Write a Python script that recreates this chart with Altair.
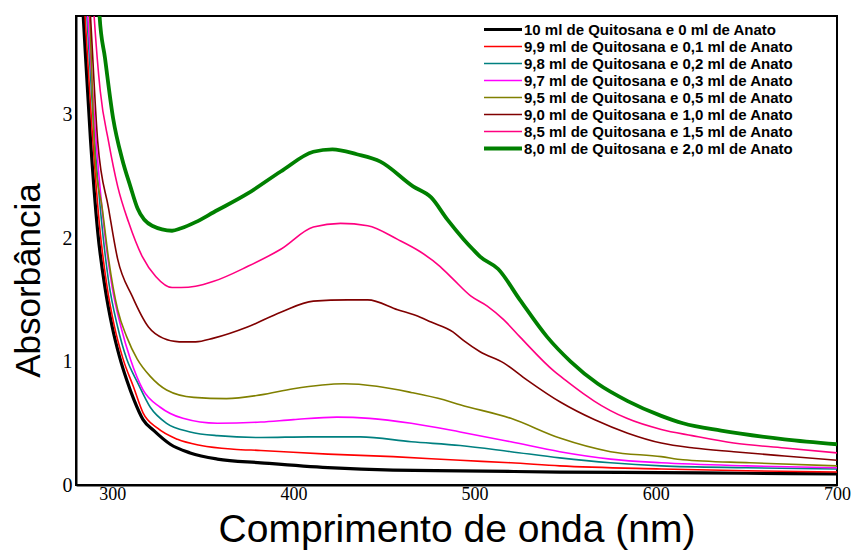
import altair as alt
import pandas as pd

labels = [
    "10 ml de Quitosana e 0 ml de Anato",
    "9,9 ml de Quitosana e 0,1 ml de Anato",
    "9,8 ml de Quitosana e 0,2 ml de Anato",
    "9,7 ml de Quitosana e 0,3 ml de Anato",
    "9,5 ml de Quitosana e 0,5 ml de Anato",
    "9,0 ml de Quitosana e 1,0 ml de Anato",
    "8,5 ml de Quitosana e 1,5 ml de Anato",
    "8,0 ml de Quitosana e 2,0 ml de Anato",
]
colors = ["#000000", "#FF0000", "#008080", "#FF00FF", "#808000", "#800000", "#FF0080", "#008000"]
widths = [3.2, 1.6, 1.6, 1.6, 1.6, 1.6, 1.6, 3.8]

x_ticks = [300, 400, 500, 600, 700]
y_ticks = [0, 1, 2, 3]

wl_0 = [282, 284, 288, 292, 296, 300, 304, 308, 312, 317, 323, 332, 343, 358, 382, 419, 455, 492, 547, 603, 650, 700]
ab_0 = [4.3, 3.8, 2.8, 2.05, 1.6, 1.28, 1.04, 0.85, 0.69, 0.53, 0.44, 0.33, 0.26, 0.21, 0.18, 0.14, 0.12, 0.115, 0.105, 0.10, 0.095, 0.09]

wl_1 = [283, 285, 289, 293, 297, 301, 306, 311.6, 317, 325, 336, 349, 367, 382, 419, 455, 492, 520, 547, 603, 650, 700]
ab_1 = [4.3, 3.8, 2.85, 2.1, 1.62, 1.3, 1.02, 0.80, 0.585, 0.46, 0.37, 0.32, 0.29, 0.28, 0.25, 0.23, 0.20, 0.18, 0.155, 0.13, 0.115, 0.105]

wl_2 = [284, 286, 290, 294, 298, 303, 308, 314, 321, 330, 343, 358, 382, 409, 437, 465, 492, 520, 547, 575, 603, 650, 700]
ab_2 = [4.3, 3.8, 2.85, 2.15, 1.65, 1.28, 1.02, 0.83, 0.63, 0.50, 0.43, 0.40, 0.385, 0.39, 0.39, 0.35, 0.32, 0.27, 0.22, 0.18, 0.155, 0.14, 0.13]

wl_3 = [284.5, 286.5, 290.5, 295, 300, 305, 310, 317, 326.5, 339, 358, 382, 400, 424, 442, 465, 492, 520, 547, 575, 603, 650, 700]
ab_3 = [4.3, 3.8, 2.9, 2.15, 1.6, 1.27, 1.02, 0.77, 0.63, 0.54, 0.50, 0.51, 0.53, 0.55, 0.54, 0.50, 0.43, 0.35, 0.27, 0.21, 0.18, 0.155, 0.14]

wl_4 = [285.5, 287.5, 290.6, 294.5, 298, 303, 308, 313.8, 321, 330, 345, 363, 382, 400, 428, 446, 465, 483, 492, 520, 547, 575, 603, 615, 652, 700]
ab_4 = [4.3, 3.8, 2.64, 2.24, 1.83, 1.42, 1.2, 1.02, 0.88, 0.77, 0.71, 0.70, 0.73, 0.78, 0.82, 0.80, 0.75, 0.69, 0.65, 0.54, 0.38, 0.27, 0.23, 0.205, 0.18, 0.155]

wl_5 = [286, 288, 292, 298, 303, 311, 320, 328, 337, 346, 356, 374.6, 393, 411, 430, 441, 457.5, 470, 476, 488, 494, 503, 516, 529, 547.5, 566, 584.5, 603, 621, 643, 671, 700]
ab_5 = [4.3, 3.8, 2.78, 2.24, 1.83, 1.53, 1.28, 1.19, 1.16, 1.16, 1.19, 1.28, 1.40, 1.49, 1.50, 1.50, 1.42, 1.36, 1.32, 1.24, 1.17, 1.08, 0.99, 0.85, 0.67, 0.53, 0.42, 0.34, 0.30, 0.27, 0.235, 0.20]

wl_6 = [288, 290, 293.4, 298, 303, 309, 316.6, 324, 333, 338, 346, 356, 374.6, 393, 411, 426, 441, 457.5, 470, 481, 488, 498, 507, 516, 525, 544, 551, 562, 566, 584, 603, 620, 643, 671, 700]
ab_6 = [4.3, 3.8, 3.19, 2.78, 2.42, 2.13, 1.85, 1.69, 1.60, 1.60, 1.61, 1.65, 1.77, 1.91, 2.09, 2.12, 2.10, 1.99, 1.89, 1.77, 1.67, 1.53, 1.45, 1.34, 1.20, 0.92, 0.84, 0.72, 0.68, 0.54, 0.45, 0.40, 0.34, 0.30, 0.26]

wl_7 = [292, 293, 296, 300.5, 305.5, 310, 314, 322, 333, 338, 346, 356, 374.6, 393, 411, 421.5, 435, 448, 466, 476, 485, 494, 499, 503, 513, 525, 540, 553, 568, 584.5, 603, 615, 636, 671, 700]
ab_7 = [4.3, 3.8, 3.46, 2.97, 2.64, 2.42, 2.24, 2.10, 2.06, 2.08, 2.13, 2.21, 2.36, 2.54, 2.70, 2.72, 2.68, 2.62, 2.42, 2.33, 2.15, 1.99, 1.91, 1.85, 1.75, 1.50, 1.20, 1.00, 0.82, 0.68, 0.56, 0.50, 0.44, 0.37, 0.33]

series_wl = [wl_0, wl_1, wl_2, wl_3, wl_4, wl_5, wl_6, wl_7]
series_ab = [ab_0, ab_1, ab_2, ab_3, ab_4, ab_5, ab_6, ab_7]

rows = []
for i, (lab, wls, abs_) in enumerate(zip(labels, series_wl, series_ab)):
    for w, a in zip(wls, abs_):
        rows.append({"serie": lab, "k": i, "wl": w, "a": a})
df = pd.DataFrame(rows)

legend = alt.Legend(
    title=None,
    orient="none",
    legendX=406,
    legendY=5,
    symbolType="stroke",
    symbolSize=1444,
    clipHeight=17,
    labelFont="Liberation Sans",
    labelFontSize=15,
    labelFontWeight="bold",
    labelColor="#000000",
    labelLimit=500,
    labelOffset=0,
    rowPadding=0,
    padding=0,
)

chart = alt.Chart(df).mark_line(interpolate="monotone", clip=True).encode(
    x=alt.X("wl:Q",
            scale=alt.Scale(domain=[280, 700], nice=False, zero=False),
            axis=alt.Axis(values=x_ticks, title="Comprimento de onda (nm)",
                          titleFont="Liberation Sans", titleFontSize=39, titleFontWeight="normal",
                          titleColor="#000000", titleBaseline="alphabetic", titleY=56,
                          labelFont="Liberation Serif", labelFontSize=18, labelColor="#000000",
                          labelPadding=0, labelFlush=False, ticks=False, grid=False,
                          domainColor="#000000", domainWidth=2)),
    y=alt.Y("a:Q",
            scale=alt.Scale(domain=[0, 3.8], nice=False),
            axis=alt.Axis(values=y_ticks, title="Absorbância",
                          titleFont="Liberation Sans", titleFontSize=35, titleFontWeight="normal",
                          titleColor="#000000", titleX=-30, titleY=264,
                          labelFont="Liberation Serif", labelFontSize=20, labelColor="#000000",
                          labelPadding=4, labelFlush=False, ticks=False, grid=False,
                          domainColor="#000000", domainWidth=2)),
    color=alt.Color("serie:N", scale=alt.Scale(domain=labels, range=colors), legend=legend),
    strokeWidth=alt.StrokeWidth("serie:N", scale=alt.Scale(type="ordinal", domain=labels, range=widths), legend=legend),
    order=alt.Order("wl:Q"),
).properties(
    width=761,
    height=469,
    padding={"left": 76, "top": 16, "right": 20, "bottom": 65},
    autosize=alt.AutoSizeParams(type="none"),
    background="white",
).configure_view(
    stroke="#000000",
    strokeWidth=2,
)

chart.save("out.html", embed_options={"renderer": "svg", "actions": False})
